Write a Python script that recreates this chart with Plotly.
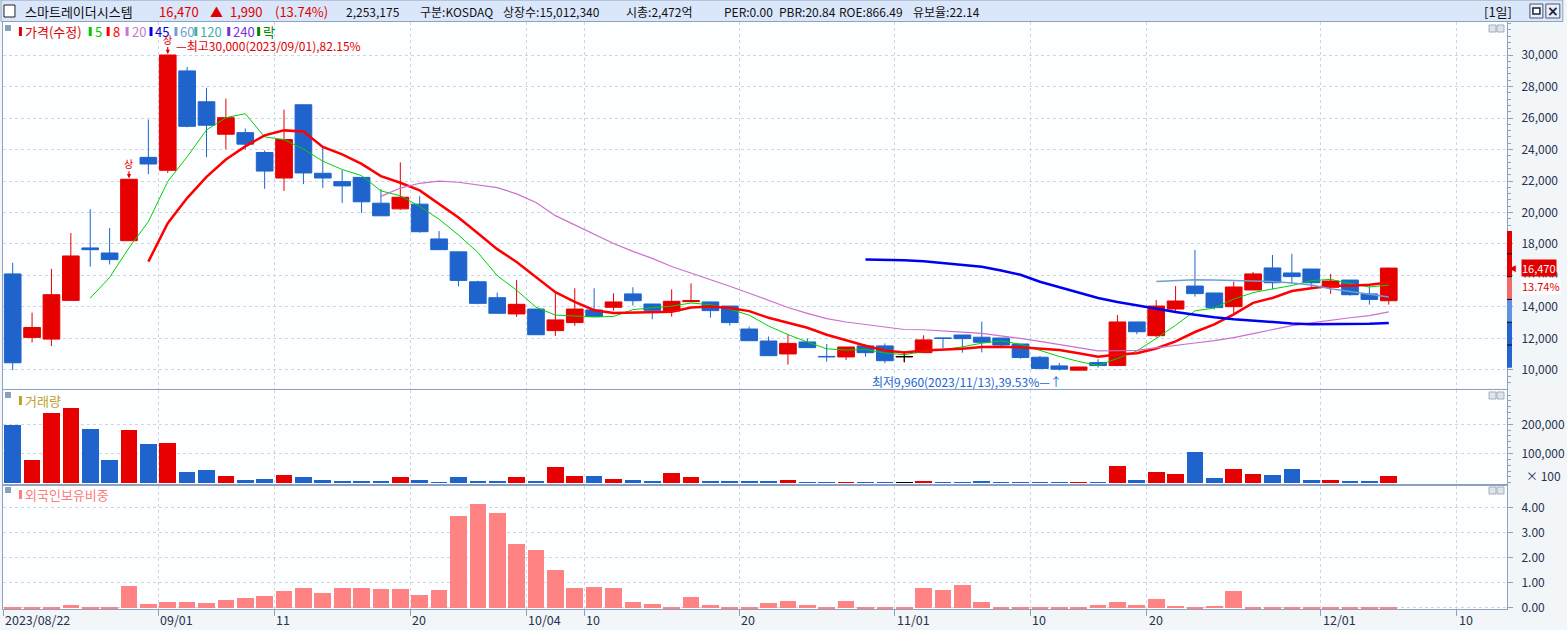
import pandas as pd
import plotly.graph_objects as go

# ---- data --------------------------------------------------------------
dates = ["08/22", "08/23", "08/24", "08/25", "08/28", "08/29", "08/30", "08/31",
         "09/01", "09/04", "09/05", "09/06", "09/07", "09/08", "09/11", "09/12",
         "09/13", "09/14", "09/15", "09/18", "09/19", "09/20", "09/21", "09/22",
         "09/25", "09/26", "09/27", "10/04", "10/05", "10/06", "10/10", "10/11",
         "10/12", "10/13", "10/16", "10/17", "10/18", "10/19", "10/20", "10/23",
         "10/24", "10/25", "10/26", "10/27", "10/30", "10/31", "11/01", "11/02",
         "11/03", "11/06", "11/07", "11/08", "11/09", "11/10", "11/13", "11/14",
         "11/15", "11/16", "11/17", "11/20", "11/21", "11/22", "11/23", "11/24",
         "11/27", "11/28", "11/29", "11/30", "12/01", "12/04", "12/05", "12/06"]

opens = [16100, 12070, 11960, 14420, 17750, 17430, 18210, 23500,
         22680, 28990, 27030, 24970, 25070, 23810, 22190, 26840,
         22490, 21960, 22230, 20590, 20230, 20530, 18320, 17500,
         15600, 14590, 13560, 13870, 12500, 13010, 13810, 13980,
         14830, 14190, 13750, 14340, 14320, 14060, 12600, 11840,
         11020, 11780, 10860, 10830, 11530, 11530, 10850, 11100,
         12030, 12220, 12080, 12030, 11650, 10810, 10260, 9990,
         10470, 10280, 13050, 12180, 13870, 15330, 14890, 14020,
         15080, 16480, 16160, 16410, 15250, 15710, 14830, 14400]
highs = [16800, 13640, 16420, 18700, 20210, 19010, 22110, 25900,
         30000, 29240, 27920, 27220, 25330, 23940, 26530, 26840,
         24210, 22680, 22230, 21480, 23180, 21030, 18820, 17500,
         15670, 14910, 15710, 13870, 14870, 15190, 15190, 14870,
         15250, 14190, 15120, 15500, 14320, 14060, 12750, 12120,
         12220, 12010, 11650, 11460, 11630, 11690, 11170, 12200,
         12050, 12220, 13070, 12030, 11650, 10890, 10450, 10190,
         10680, 13490, 13050, 14440, 15330, 17620, 14890, 15610,
         16220, 17300, 17370, 16410, 16100, 15710, 15290, 16500]
lows = [10000, 11750, 11520, 14420, 16570, 16700, 18210, 22440,
        22510, 25410, 23520, 24020, 24000, 21500, 21370, 21810,
        21560, 20610, 19980, 19790, 20170, 18720, 17640, 15310,
        14170, 13600, 13370, 12240, 12160, 12800, 13390, 13770,
        14090, 13220, 13390, 14300, 13320, 12820, 11860, 10910,
        10340, 11420, 10530, 10640, 10850, 10430, 10490, 11100,
        11380, 11100, 11120, 11380, 10720, 10040, 9960, 9970,
        10150, 10280, 12270, 12070, 13660, 14660, 13850, 13600,
        15080, 15120, 15500, 15190, 14830, 14720, 14150, 14150]
closes = [10460, 12700, 14780, 17240, 17640, 17010, 22110, 23080,
          30000, 25470, 25540, 26020, 24340, 22630, 24630, 22510,
          22190, 21690, 20680, 19790, 20970, 18780, 17640, 15690,
          14230, 13600, 14170, 12240, 13180, 13870, 13390, 14320,
          14400, 13790, 14360, 14400, 13770, 13010, 11860, 10910,
          11690, 11420, 10840, 11460, 11100, 10590, 10850, 11910,
          12010, 11990, 11760, 11590, 10790, 10100, 10050, 10190,
          10280, 13050, 12430, 14060, 14380, 14850, 13960, 15270,
          16100, 15540, 15930, 15540, 15650, 14780, 14480, 16470]

# volume, shown in units of 100 shares
volumes = [197400, 77600, 238500, 255600, 183700, 77600, 180300, 132400,
           135800, 36500, 43400, 22800, 9100, 12600, 26200, 19400,
           9100, 5700, 5700, 5700, 19400, 9100, 2300, 19400,
           5700, 5700, 19400, 5700, 53600, 22800, 22800, 12600,
           9100, 5700, 33100, 19400, 5700, 5700, 5700, 5700,
           9100, 2300, 2300, 2300, 2300, 2300, 2300, 5700,
           2300, 2300, 5700, 2300, 2300, 2300, 2300, 2300,
           2300, 57000, 9100, 36500, 29700, 105000, 16000, 46800,
           29700, 26200, 46800, 9100, 9100, 5700, 5700, 22800]

# foreign ownership ratio (%)
foreign_ratio = [0.03, 0.06, 0.03, 0.12, 0.06, 0.06, 0.88, 0.16,
                 0.24, 0.24, 0.20, 0.31, 0.39, 0.47, 0.67, 0.82,
                 0.59, 0.82, 0.82, 0.75, 0.78, 0.51, 0.71, 3.69,
                 4.16, 3.80, 2.55, 2.31, 1.53, 0.82, 0.86, 0.82,
                 0.24, 0.16, 0.04, 0.43, 0.12, 0.02, 0.02, 0.20,
                 0.27, 0.12, 0.04, 0.27, 0.02, 0.02, 0.02, 0.82,
                 0.71, 0.94, 0.24, 0.04, 0.02, 0.02, 0.04, 0.02,
                 0.12, 0.24, 0.12, 0.35, 0.08, 0.02, 0.08, 0.67,
                 0.02, 0.02, 0.02, 0.02, 0.02, 0.02, 0.02, 0.02]

tick_idx = [0, 8, 14, 21, 27, 30, 38, 46, 53, 59, 68, 75]
tick_text = ["2023/08/22", "09/01", "11", "20", "10/04", "10", "20",
             "11/01", "10", "20", "12/01", "10"]

price_ticks = list(range(10000, 30001, 2000))
volume_ticks = [100000, 200000]
foreign_ticks = [0, 1, 2, 3, 4]

ma_periods = [5, 8, 20, 45, 60]
ma_colors = ["#00d200", "#ff0000", "#cc70cc", "#0000f0", "#6f9fd2"]
ma_widths = [1, 2.5, 1.2, 2.5, 1.5]

legend_labels = ["가격(수정)", "5", "8", "20", "45", "60", "120", "240", "락"]
legend_colors = ["#e00000", "#00c800", "#ff0000", "#cc77cc", "#0000e0",
                 "#70a0d0", "#40b0a0", "#7a30d8", "#008800"]

header_name = "스마트레이더시스템"
header_price = ["16,470", "▲", "1,990", "(13.74%)"]
header_info = ["2,253,175", "구분:KOSDAQ", "상장수:15,012,340", "시총:2,472억",
               "PER:0.00", "PBR:20.84", "ROE:866.49", "유보율:22.14"]

high_label = "—최고30,000(2023/09/01),82.15%"
low_label = "최저9,960(2023/11/13),39.53%—↑"

# ---- page geometry -------------------------------------------------------
W, H = 1567, 630
ML, MR, MT, MB = 2, 56, 22, 21


def px(x):
    return (x - ML) / (W - ML - MR)


def py(y):
    return (H - MB - y) / (H - MT - MB)


RED = "#e60000"
BLUE = "#1e64cc"
FRAME = "#8ea2bd"
TXT = "#26324e"
KFONT = "Noto Sans CJK KR, sans-serif"

n = len(closes)
idx = list(range(n))
df = pd.DataFrame({"o": opens, "h": highs, "l": lows, "c": closes}, index=idx)

fig = go.Figure()

# candles
fig.add_trace(go.Candlestick(
    x=idx, open=opens, high=highs, low=lows, close=closes,
    increasing=dict(line=dict(color=RED, width=1), fillcolor=RED),
    decreasing=dict(line=dict(color=BLUE, width=1), fillcolor=BLUE),
    whiskerwidth=0, showlegend=False, xaxis="x", yaxis="y"))

flat = df[df.o == df.c]
fig.add_trace(go.Candlestick(
    x=list(flat.index), open=flat.o, high=flat.h, low=flat.l, close=flat.c,
    increasing=dict(line=dict(color="black", width=1), fillcolor="black"),
    decreasing=dict(line=dict(color="black", width=1), fillcolor="black"),
    whiskerwidth=0, showlegend=False, xaxis="x", yaxis="y"))

# moving averages
for p, col, w in zip(ma_periods, ma_colors, ma_widths):
    ma = df.c.rolling(p).mean()
    fig.add_trace(go.Scatter(x=idx, y=ma, mode="lines",
                             line=dict(color=col, width=w),
                             showlegend=False, xaxis="x", yaxis="y"))

# volume
bar_cols = [RED if c > o else ("black" if c == o else BLUE)
            for o, c in zip(opens, closes)]
fig.add_trace(go.Bar(x=idx, y=volumes, marker=dict(color=bar_cols, line_width=0),
                     width=0.86, showlegend=False, xaxis="x2", yaxis="y2"))

# foreign ownership
fig.add_trace(go.Bar(x=idx, y=foreign_ratio,
                     marker=dict(color="#ff8383", line_width=0),
                     width=0.86, showlegend=False, xaxis="x3", yaxis="y3"))

grid_x = [i - 0.5 for i in tick_idx]
xcommon = dict(range=[-0.5, 77.1], tickvals=grid_x, showticklabels=False,
               showgrid=True, gridcolor="#cfd6de", griddash="dot", gridwidth=1,
               showline=True, mirror=True, linecolor=FRAME, linewidth=1,
               zeroline=False, fixedrange=True)
ycommon = dict(side="right", showline=True, mirror=True, linecolor=FRAME,
               linewidth=1, showgrid=True, gridcolor="#cfd6de", griddash="dot",
               zeroline=False, ticks="outside", ticklen=5, tickcolor=FRAME,
               tickfont=dict(family=KFONT, size=12, color=TXT),
               ticklabelstandoff=6, fixedrange=True)

fig.update_layout(
    width=W, height=H,
    margin=dict(l=ML, r=MR, t=MT, b=MB),
    paper_bgcolor="#f3f6f9", plot_bgcolor="#fdfeff",
    boxgap=0.14, boxgroupgap=0, bargap=0,
    xaxis=dict(**xcommon, domain=[0, 1], anchor="y",
               rangeslider=dict(visible=False)),
    xaxis2=dict(**xcommon, domain=[0, 1], anchor="y2", matches="x"),
    xaxis3=dict(**xcommon, domain=[0, 1], anchor="y3", matches="x",
                ticks="outside", ticklen=6, tickcolor=FRAME),
    yaxis=dict(**ycommon, domain=[py(388.5), 1], range=[8825, 32095],
               tickvals=price_ticks, tickformat=",",
               minor=dict(dtick=400, ticks="outside", ticklen=3,
                          tickcolor=FRAME, showgrid=False)),
    yaxis2=dict(**ycommon, domain=[py(484), py(390)], range=[-4450, 317466],
                tickvals=volume_ticks, tickformat=",",
                minor=dict(dtick=20000, ticks="outside", ticklen=3,
                           tickcolor=FRAME, showgrid=False)),
    yaxis3=dict(**ycommon, domain=[0, py(485.5)], range=[-0.051, 4.87],
                tickvals=foreign_ticks, tickformat=".2f"),
    hovermode=False,
)

shapes = []
ann = []

# header strip
shapes.append(dict(type="rect", xref="paper", yref="paper", x0=px(0), x1=px(W),
                   y0=py(21.5), y1=py(0), fillcolor="#dae6fa",
                   line=dict(color=FRAME, width=1), layer="below"))
shapes.append(dict(type="rect", xref="paper", yref="paper", x0=px(3), x1=px(14),
                   y0=py(17), y1=py(5), fillcolor="white",
                   line=dict(color="#222222", width=1)))
ann.append(dict(text=header_name, x=px(22), y=py(11), xref="paper", yref="paper",
                xanchor="left", yanchor="middle", showarrow=False,
                font=dict(family=KFONT, size=13, color="#111111")))
for t, xx in zip(header_price, [157, 208, 228, 273]):
    ann.append(dict(text=t, x=px(xx), y=py(11), xref="paper", yref="paper",
                    xanchor="left", yanchor="middle", showarrow=False,
                    font=dict(family=KFONT, size=13, color="#e00000")))
for t, xx in zip(header_info, [344, 418, 502, 625, 723, 779, 839, 913]):
    ann.append(dict(text=t, x=px(xx), y=py(11), xref="paper", yref="paper",
                    xanchor="left", yanchor="middle", showarrow=False,
                    font=dict(family=KFONT, size=12, color="#111111")))
ann.append(dict(text="[1일]", x=px(1486), y=py(11), xref="paper", yref="paper",
                xanchor="left", yanchor="middle", showarrow=False,
                font=dict(family=KFONT, size=13, color="#111111")))
for x0, x1 in [(1534, 1547), (1550, 1564)]:
    shapes.append(dict(type="rect", xref="paper", yref="paper", x0=px(x0), x1=px(x1),
                       y0=py(18), y1=py(4), fillcolor="#e9eef7",
                       line=dict(color="#4a5670", width=1)))
shapes.append(dict(type="rect", xref="paper", yref="paper", x0=px(1537), x1=px(1544),
                   y0=py(14), y1=py(8), fillcolor="white",
                   line=dict(color="#1a2240", width=1.5)))
ann.append(dict(text="<b>×</b>", x=px(1557), y=py(11), xref="paper", yref="paper",
                xanchor="center", yanchor="middle", showarrow=False,
                font=dict(family="DejaVu Sans", size=14, color="#1a2240")))

# panel corner icons
for top in [25, 392, 487]:
    shapes.append(dict(type="rect", xref="paper", yref="paper", x0=px(4), x1=px(10),
                       y0=py(top + 6), y1=py(top), fillcolor="#8da0bb", line_width=0))
    for x0 in [1493, 1501]:
        shapes.append(dict(type="rect", xref="paper", yref="paper", x0=px(x0),
                           x1=px(x0 + 7), y0=py(top + 7), y1=py(top),
                           fillcolor="#dfe4ea", line=dict(color="#a3afbf", width=1)))

# price legend
legend_x = [18, 88, 106, 125, 149, 174, 194, 227, 257]
for lab, col, xx in zip(legend_labels, legend_colors, legend_x):
    shapes.append(dict(type="rect", xref="paper", yref="paper", x0=px(xx),
                       x1=px(xx + 3), y0=py(36), y1=py(27), fillcolor=col,
                       line_width=0))
    ann.append(dict(text=lab, x=px(xx + 4), y=py(31.5), xref="paper", yref="paper",
                    xanchor="left", yanchor="middle", showarrow=False,
                    font=dict(family=KFONT, size=13, color=col)))

for lab, col, yy in [("거래량", "#bba22a", 400), ("외국인보유비중", "#ff7c7c", 494)]:
    shapes.append(dict(type="rect", xref="paper", yref="paper", x0=px(18),
                       x1=px(21), y0=py(yy + 5), y1=py(yy - 4), fillcolor=col,
                       line_width=0))
    ann.append(dict(text=lab, x=px(22), y=py(yy + 0.5), xref="paper", yref="paper",
                    xanchor="left", yanchor="middle", showarrow=False,
                    font=dict(family=KFONT, size=13, color=col)))

# upper-limit markers ("상") on limit-up days
for i in [6, 8]:
    ann.append(dict(text="상", x=i, y=highs[i], xref="x", yref="y",
                    showarrow=True, arrowhead=2, arrowsize=0.7, arrowwidth=1.2,
                    arrowcolor="#e00000", ax=0, ay=-16, standoff=1, borderpad=0,
                    font=dict(family=KFONT, size=10, color="#e00000")))

hi = highs.index(max(highs))
lo = lows.index(min(lows))
ann.append(dict(text=high_label, x=hi, y=highs[hi], xref="x", yref="y",
                xanchor="left", yanchor="middle", xshift=6, yshift=10,
                showarrow=False, font=dict(family=KFONT, size=12, color="#e00000")))
ann.append(dict(text=low_label, x=lo, y=lows[lo], xref="x", yref="y",
                xanchor="right", yanchor="middle", xshift=5, yshift=-11,
                showarrow=False, font=dict(family=KFONT, size=12, color="#1e64cc")))

# price-limit band on the axis
prev = closes[-2]
band = [(prev * 1.1, prev * 1.3, "#e00000"), (prev, prev * 1.1, "#f06a6a"),
        (prev * 0.9, prev, "#5f92e2"), (prev * 0.7, prev * 0.9, "#2463d0")]
for y0, y1, col in band:
    shapes.append(dict(type="rect", xref="paper", yref="y", x0=px(1511),
                       x1=px(1516), y0=y0, y1=y1, fillcolor=col, line_width=0))
for f in [0.8, 0.9, 1.0, 1.1, 1.2]:
    shapes.append(dict(type="line", xref="paper", yref="y", x0=px(1511),
                       x1=px(1516), y0=prev * f, y1=prev * f,
                       line=dict(color="black", width=1)))

last = closes[-1]
ann.append(dict(text="◀", x=px(1521), y=last, xref="paper", yref="y",
                xanchor="right", yanchor="middle", showarrow=False, borderpad=0,
                font=dict(family="DejaVu Sans", size=9, color="#e00000")))
ann.append(dict(text=f"{last:,}", x=px(1525), y=last, xref="paper", yref="y",
                xanchor="left", yanchor="middle", showarrow=False,
                bgcolor="#e00000", borderpad=0,
                font=dict(family=KFONT, size=11, color="white")))
ann.append(dict(text="13.74%", x=px(1525), y=last, xref="paper", yref="y",
                xanchor="left", yanchor="middle", yshift=-18, showarrow=False,
                bgcolor="white", borderpad=0,
                font=dict(family=KFONT, size=11, color="#e00000")))

ann.append(dict(text="× 100", x=px(1528), y=py(475), xref="paper", yref="paper",
                xanchor="left", yanchor="middle", showarrow=False,
                font=dict(family=KFONT, size=12, color=TXT)))

# date labels
for i, t in zip(tick_idx, tick_text):
    ann.append(dict(text=t, x=i - 0.5, y=py(619.5), xref="x3", yref="paper",
                    xanchor="left", yanchor="middle", xshift=0, showarrow=False,
                    font=dict(family=KFONT, size=12.5, color=TXT)))

fig.update_layout(shapes=shapes, annotations=ann)
fig.write_html("out.html", config={"displayModeBar": False},
               post_script="document.body.style.margin='0';"
                           "document.body.style.overflow='hidden';")
